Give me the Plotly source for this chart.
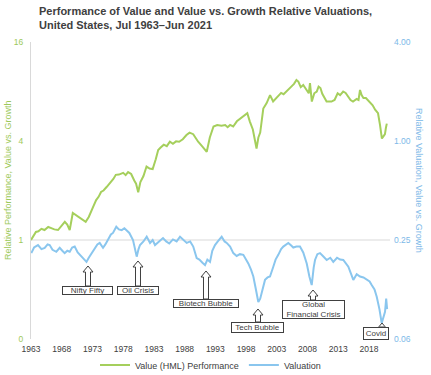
import plotly.graph_objects as go

# ---------------- data ----------------
perf_years = [1963.5, 1963.9, 1964.3, 1964.7, 1965.2, 1965.7, 1966.3, 1966.8, 1967.3, 1967.9,
              1968.4, 1969.0, 1969.4, 1969.8, 1970.3, 1970.8, 1971.2, 1971.8, 1972.4, 1972.9,
              1973.3, 1973.7, 1974.1, 1974.5, 1974.9, 1975.3, 1975.8, 1976.4, 1976.9, 1977.3,
              1977.8, 1978.5, 1978.9, 1979.3, 1979.8, 1980.3, 1980.6, 1980.95, 1981.3, 1981.8,
              1982.3, 1982.8, 1983.3, 1983.8, 1984.2, 1984.6, 1985.1, 1985.6, 1986.1, 1986.6,
              1987.1, 1987.6, 1988.2, 1988.8, 1989.3, 1989.9, 1990.7, 1991.4, 1992.1, 1992.6,
              1993.2, 1993.8, 1994.5, 1995.1, 1995.5, 1995.9, 1996.4, 1997.0, 1997.4, 1998.0,
              1998.3, 1998.7, 1999.1, 1999.6, 2000.2, 2000.5, 2000.8, 2001.3, 2001.85, 2002.4,
              2002.9, 2003.5, 2004.2, 2004.6, 2005.1, 2005.5, 2005.9, 2006.3, 2006.7, 2007.0,
              2007.4, 2007.8, 2008.3, 2008.7, 2008.9, 2009.2, 2009.6, 2010.0, 2010.3, 2010.6,
              2010.9, 2011.3, 2011.6, 2012.0, 2012.4, 2012.9, 2013.4, 2013.8, 2014.3, 2014.7,
              2015.1, 2015.5, 2015.9, 2016.5, 2016.8, 2017.04, 2017.3, 2017.6, 2018.0, 2018.4,
              2018.67, 2019.1, 2019.5, 2019.97, 2020.3, 2020.6, 2020.9, 2021.1, 2021.25, 2021.4]
perf_values = [1.00, 1.05, 1.12, 1.13, 1.17, 1.15, 1.20, 1.18, 1.16, 1.15,
               1.22, 1.29, 1.24, 1.15, 1.46, 1.42, 1.38, 1.33, 1.29, 1.38,
               1.48, 1.62, 1.75, 1.83, 1.96, 2.00, 2.10, 2.22, 2.35, 2.49,
               2.50, 2.56, 2.48, 2.59, 2.52, 2.30, 2.20, 1.95, 2.25, 2.45,
               2.80, 2.72, 2.70, 3.10, 3.53, 3.65, 3.80, 3.72, 3.96, 3.85,
               3.98, 3.96, 4.10, 4.35, 4.50, 4.40, 3.96, 3.70, 3.44, 4.20,
               4.90, 5.00, 4.95, 5.00, 4.85, 5.01, 4.90, 5.27, 5.40, 5.60,
               5.76, 5.90, 5.27, 4.70, 3.60, 4.20, 4.50, 6.30, 6.80, 7.60,
               6.95, 7.40, 7.84, 7.70, 8.00, 8.30, 8.60, 8.90, 9.40, 9.20,
               8.50, 8.76, 8.20, 7.80, 9.00, 6.95, 7.80, 8.00, 8.56, 8.40,
               7.74, 7.30, 6.95, 6.95, 6.95, 7.10, 7.80, 7.60, 8.00, 7.84,
               7.40, 7.10, 6.95, 7.20, 7.10, 8.17, 7.60, 7.30, 7.30, 7.00,
               6.83, 6.60, 6.20, 5.90, 5.00, 4.14, 4.30, 4.40, 4.80, 5.10]

val_years = [1963.55, 1964.0, 1964.64, 1965.2, 1965.73, 1966.2, 1966.54, 1967.0, 1967.62, 1968.17,
             1968.6, 1968.98, 1969.4, 1969.8, 1970.2, 1970.61, 1971.1, 1971.69, 1972.1, 1972.53,
             1972.9, 1973.31, 1973.87, 1974.3, 1974.68, 1975.22, 1975.6, 1976.03, 1976.5, 1976.84,
             1977.38, 1977.8, 1978.26, 1978.7, 1979.07, 1979.5, 1980.1, 1980.4, 1980.7, 1981.0,
             1981.24, 1981.8, 1982.33, 1982.87, 1983.3, 1983.68, 1984.3, 1984.98, 1985.5, 1986.0,
             1986.6, 1987.2, 1987.75, 1988.3, 1988.84, 1989.4, 1989.9, 1990.46, 1990.9, 1991.4,
             1991.82, 1992.2, 1992.63, 1993.0, 1993.44, 1993.9, 1994.53, 1995.0, 1995.35, 1995.9,
             1996.42, 1996.97, 1997.5, 1998.05, 1998.86, 1999.3, 1999.68, 2000.1, 2000.49, 2000.8,
             2001.04, 2001.3, 2001.58, 2002.0, 2002.39, 2002.93, 2003.3, 2003.74, 2004.2, 2004.56,
             2005.0, 2005.37, 2005.8, 2006.18, 2006.7, 2007.27, 2007.8, 2008.37, 2008.8, 2009.18,
             2009.5, 2009.72, 2010.1, 2010.53, 2011.0, 2011.62, 2012.2, 2012.69, 2013.3, 2013.8,
             2014.32, 2014.7, 2015.14, 2015.6, 2015.95, 2016.5, 2017.04, 2017.6, 2018.13, 2018.6,
             2018.94, 2019.4, 2019.76, 2020.2, 2020.57, 2020.9, 2021.11, 2021.3, 2021.45]
val_values = [0.208, 0.225, 0.233, 0.220, 0.224, 0.235, 0.233, 0.218, 0.212, 0.224,
              0.215, 0.208, 0.215, 0.212, 0.225, 0.228, 0.210, 0.198, 0.190, 0.184,
              0.195, 0.206, 0.224, 0.235, 0.240, 0.224, 0.235, 0.250, 0.270, 0.276,
              0.301, 0.290, 0.287, 0.295, 0.287, 0.276, 0.250, 0.220, 0.198, 0.220,
              0.233, 0.245, 0.262, 0.240, 0.250, 0.233, 0.245, 0.257, 0.245, 0.238,
              0.252, 0.245, 0.262, 0.250, 0.240, 0.245, 0.228, 0.194, 0.190, 0.182,
              0.176, 0.190, 0.184, 0.215, 0.233, 0.245, 0.262, 0.245, 0.240, 0.228,
              0.208, 0.200, 0.205, 0.203, 0.180, 0.165, 0.150, 0.125, 0.105, 0.110,
              0.118, 0.130, 0.143, 0.148, 0.150, 0.172, 0.190, 0.203, 0.220, 0.228,
              0.235, 0.240, 0.232, 0.225, 0.228, 0.228, 0.210, 0.180, 0.150, 0.133,
              0.170, 0.189, 0.205, 0.208, 0.200, 0.189, 0.195, 0.184, 0.195, 0.190,
              0.189, 0.180, 0.172, 0.155, 0.143, 0.155, 0.150, 0.148, 0.143, 0.140,
              0.133, 0.125, 0.113, 0.095, 0.078, 0.085, 0.0915, 0.110, 0.095]

tick_years = [1963, 1968, 1973, 1978, 1983, 1988, 1993, 1998, 2003, 2008, 2013, 2018]
left_ticks = [0.25, 1, 4, 16]
left_labels = ["0", "1", "4", "16"]
right_ticks = [0.0625, 0.25, 1, 4]
right_labels = ["0.06", "0.25", "1.00", "4.00"]

events = ["Nifty Fifty", "Oil Crisis", "Biotech Bubble", "Tech Bubble",
          "Global<br>Financial Crisis", "Covid"]

# ---------------- layout geometry ----------------
W, H = 431, 375
ML, MR, MT, MB = 31, 41, 42, 36
PW, PH = W - ML - MR, H - MT - MB
X0, X1 = 1963.5, 2021.92

GREEN = "#A5CF5C"
GREEN_TXT = "#9DC95A"
BLUE = "#8AC6EE"
BLUE_TXT = "#7DB9E8"
TXT = "#404040"
FONT = "Liberation Sans, Arial, sans-serif"


def px_x(px):
    return (px - ML) / PW


def px_y(py):
    return (H - MB - py) / PH


fig = go.Figure()
fig.add_trace(go.Scatter(x=perf_years, y=perf_values, mode="lines", name="Value (HML) Performance",
                         line=dict(color=GREEN, width=2), yaxis="y"))
fig.add_trace(go.Scatter(x=val_years, y=val_values, mode="lines", name="Valuation",
                         line=dict(color=BLUE, width=2), yaxis="y2"))

shapes = [dict(type="line", xref="paper", yref="paper", x0=0, x1=1, y0=1 / 3, y1=1 / 3,
               line=dict(color="#D9D9D9", width=1), layer="below")]

# event callouts: (label, arrow x px, tip y px, box left, box right, box top, box bottom)
callouts = [
    (events[0], 88, 266, 62, 113, 286, 295),
    (events[1], 138, 261, 117, 159, 286, 295),
    (events[2], 206, 271, 173, 239, 299, 308),
    (events[3], 258, 309, 231, 284, 322, 333),
    (events[4], 313, 290, 282, 345, 300, 319),
    (events[5], 382, 323, 363, 389, 327, 340),
]
annotations = []
for label, cx, tip, bl, br, bt, bb in callouts:
    hw, sw, hh = 5, 2.5, 6
    pts = [(cx, tip), (cx + hw, tip + hh), (cx + sw, tip + hh), (cx + sw, bt),
           (cx - sw, bt), (cx - sw, tip + hh), (cx - hw, tip + hh)]
    path = "M " + " L ".join(f"{px_x(a):.5f},{px_y(b):.5f}" for a, b in pts) + " Z"
    shapes.append(dict(type="path", xref="paper", yref="paper", path=path,
                       fillcolor="white", line=dict(color="#404040", width=1), layer="above"))
    annotations.append(dict(xref="paper", yref="paper", x=px_x((bl + br) / 2), y=px_y((bt + bb) / 2),
                            text=label, showarrow=False, font=dict(size=8, color=TXT, family=FONT),
                            bordercolor="#404040", borderwidth=1, borderpad=0, bgcolor="white",
                            width=br - bl - 2, height=bb - bt - 2, xanchor="center", yanchor="middle"))

annotations.append(dict(xref="paper", yref="paper", x=px_x(8), y=px_y(181), textangle=-90,
                        text="Relative Performance, Value vs. Growth", showarrow=False,
                        font=dict(size=9, color=GREEN_TXT, family=FONT), xanchor="center", yanchor="middle"))
annotations.append(dict(xref="paper", yref="paper", x=px_x(419), y=px_y(181), textangle=90,
                        text="Relative Valuation, Value vs. Growth", showarrow=False,
                        font=dict(size=9, color=BLUE_TXT, family=FONT), xanchor="center", yanchor="middle"))
annotations.append(dict(xref="paper", yref="paper", x=px_x(37), y=px_y(3), xanchor="left", yanchor="top",
                        align="left", showarrow=False,
                        text="<b>Performance of Value and Value vs. Growth Relative Valuations,<br>United States, Jul 1963–Jun 2021</b>",
                        font=dict(size=11, color=TXT, family=FONT)))

fig.update_layout(
    width=W, height=H,
    margin=dict(l=ML, r=MR, t=MT, b=MB, autoexpand=False),
    paper_bgcolor="white", plot_bgcolor="white",
    font=dict(family=FONT, color=TXT, size=9),
    xaxis=dict(range=[X0, X1], tickvals=[y + 0.5 for y in tick_years], ticktext=[str(y) for y in tick_years],
               showgrid=False, zeroline=False, showline=False, ticks="", ticklabelstandoff=3,
               tickfont=dict(size=8.5, color=TXT)),
    yaxis=dict(type="log", range=[-0.60206, 1.20412], tickvals=left_ticks, ticktext=left_labels,
               showgrid=False, zeroline=False, showline=True, linecolor="#D9D9D9", linewidth=1,
               ticks="", ticklabelstandoff=5, tickfont=dict(size=8.5, color=GREEN_TXT)),
    yaxis2=dict(type="log", range=[-1.20412, 0.60206], tickvals=right_ticks, ticktext=right_labels,
                overlaying="y", side="right", showgrid=False, zeroline=False, showline=False,
                ticks="", ticklabelstandoff=3, tickfont=dict(size=8.5, color=BLUE_TXT)),
    legend=dict(orientation="h", x=0.5, xanchor="center", y=px_y(365), yanchor="middle",
                font=dict(size=9, color=TXT), bgcolor="rgba(0,0,0,0)", itemwidth=30),
    showlegend=True,
    shapes=shapes,
    annotations=annotations,
)

fig.write_html("out.html", config={"displayModeBar": False},
               post_script="document.body.style.margin='0';document.body.style.overflow='hidden';")
